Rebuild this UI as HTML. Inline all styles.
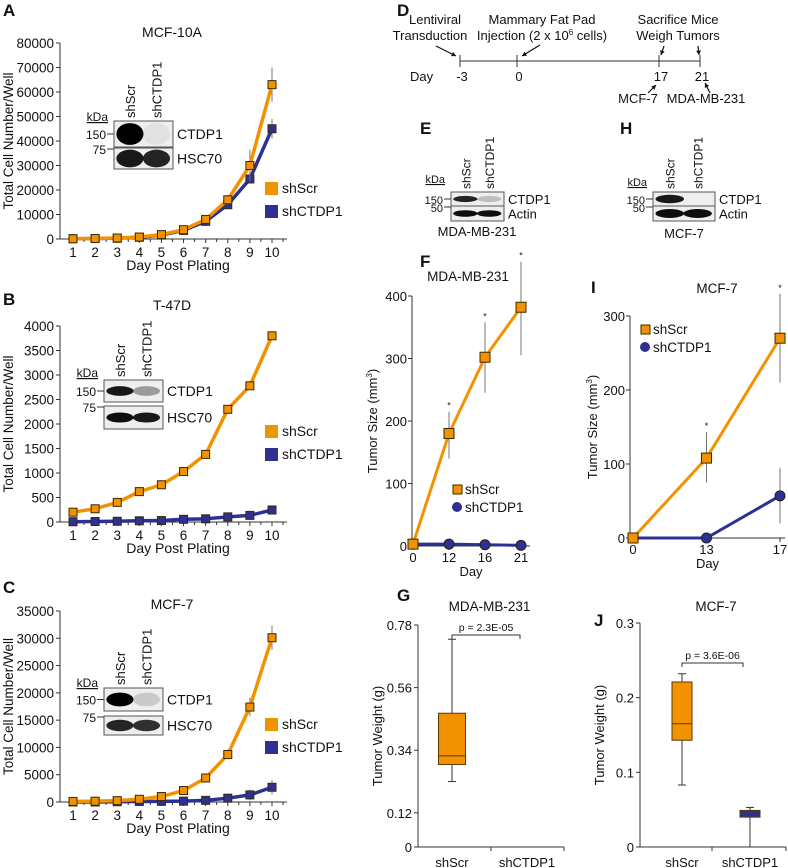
<!DOCTYPE html>
<html><head><meta charset="utf-8"><style>
html,body{margin:0;padding:0;background:#fff}
svg{display:block;font-family:"Liberation Sans",Arial,sans-serif}
</style></head><body>
<svg id="fig" width="788" height="868" viewBox="0 0 788 868" xmlns="http://www.w3.org/2000/svg"></svg>
<script>
// ---- data ----
const days = [1,2,3,4,5,6,7,8,9,10];
const aScr = [100,200,400,800,1800,3800,8000,16000,30000,63000];
const aCtd = [100,200,300,700,1600,3500,7200,14000,24500,45000];
const aScrErr = [50,50,100,150,300,400,800,2000,6500,7000];
const aCtdErr = [50,50,100,150,300,400,600,1000,1500,4000];
const aTicks = [0,10000,20000,30000,40000,50000,60000,70000,80000];
const bScr = [200,270,400,620,760,1030,1380,2300,2780,3800];
const bCtd = [5,10,15,25,30,55,65,105,135,245];
const bTicks = [0,500,1000,1500,2000,2500,3000,3500,4000];
const cScr = [100,150,250,500,1000,2100,4400,8700,17400,30100];
const cCtd = [0,0,50,100,120,150,300,700,1300,2700];
const cScrErr = [50,50,100,200,300,300,700,900,1700,2200];
const cCtdErr = [0,0,50,50,50,100,150,200,1000,1300];
const cTicks = [0,5000,10000,15000,20000,25000,30000,35000];
const fDays = ['0','12','16','21'];
const fScr = [3,180,302,382];
const fScrLo = [3,140,245,305];
const fScrHi = [3,215,358,455];
const fCtd = [3,3,2,1];
const fTicks = [0,100,200,300,400];
const iDays = ['0','13','17'];
const iScr = [0,108,270];
const iScrLo = [0,75,210];
const iScrHi = [0,143,330];
const iCtd = [0,0,57];
const iCtdLo = [0,0,20];
const iCtdHi = [0,0,95];
const iTicks = [0,100,200,300];
const boxGroups = ['shScr','shCTDP1'];
const gStats = [[0.23,0.29,0.32,0.47,0.73]];
const gTicks = [0,0.12,0.34,0.56,0.78];
const jStats = [[0.083,0.143,0.165,0.221,0.232],[0.0,0.040,0.045,0.049,0.053]];
const jTicks = [0,0.1,0.2,0.3];

const OR='#f39200', BL='#2e3192', NS='http://www.w3.org/2000/svg';
const svg=document.getElementById('fig');
function el(tag,attrs,parent,text){const e=document.createElementNS(NS,tag);for(const k in attrs)e.setAttribute(k,attrs[k]);if(text!==undefined)e.textContent=text;(parent||svg).appendChild(e);return e;}
function txt(x,y,s,size,anchor,parent,extra){const t=el('text',Object.assign({x:x,y:y,'font-size':size||13,'text-anchor':anchor||'start',fill:'#111'},extra||{}),parent,s);return t;}
function lin(d0,d1,r0,r1){return v=>r0+(v-d0)/(d1-d0)*(r1-r0);}

function letter(s,x,y){const t=txt(x,y,s,17,'start',null,{'font-weight':'bold'});

}

function growth(cfg){
 const g=el('g',{});
 
 
 const xs=lin(1,10,73,272), ys=lin(0,cfg.ymax,cfg.y0,cfg.ytop);
 el('line',{x1:60,y1:cfg.ytop,x2:60,y2:cfg.y0,stroke:'#333','stroke-width':1},g);
 el('line',{x1:60,y1:cfg.y0,x2:287,y2:cfg.y0,stroke:'#333','stroke-width':1},g);
 cfg.ticks.forEach(t=>{const y=ys(t);el('line',{x1:56,y1:y,x2:60,y2:y,stroke:'#333'},g);
  const l=txt(54,y+5,String(t),13.5,'end',g);
  
  });
 days.forEach(d=>{const x=xs(d);el('line',{x1:x,y1:cfg.y0,x2:x,y2:cfg.y0+4,stroke:'#333'},g);
  const l=txt(x,cfg.y0+18,String(d),13.5,'middle',g);
  
  
  el('line',{x1:x+11,y1:cfg.y0,x2:x+11,y2:cfg.y0+3,stroke:'#333'},g);});
 const xt=txt(178,cfg.y0+31,'Day Post Plating',14,'middle',g);
 
 
 const yt=txt(0,0,'Total Cell Number/Well',13.5,'middle',g,{transform:'translate(13,'+(cfg.y0+cfg.ytop)/2+') rotate(-90)'});
 
 
 const tt=txt(172,cfg.titleY,cfg.title,14,'middle',g);
 
 
 [[cfg.ctd,BL,cfg.ctdErr,'shCTDP1'],[cfg.scr,OR,cfg.scrErr,'shScr']].forEach(([vals,col,err,nm])=>{
  if(err){vals.forEach((v,i)=>{const x=xs(days[i]);const e=el('line',{x1:x,y1:ys(v+err[i]),x2:x,y2:ys(Math.max(0,v-err[i])),stroke:'#777','stroke-width':1},g);
   
   });}
  const p=el('polyline',{points:vals.map((v,i)=>xs(days[i])+','+ys(v)).join(' '),fill:'none',stroke:col,'stroke-width':3.5,'stroke-linejoin':'round'},g);
  
  
  vals.forEach((v,i)=>{const m=el('rect',{x:xs(days[i])-4,y:ys(v)-4,width:8,height:8,fill:col,stroke:'#3a2a00','stroke-width':1},g);
   
   });
 });
 [[OR,'shScr',cfg.legY],[BL,'shCTDP1',cfg.legY+23]].forEach(([c,s,y])=>{
  const r=el('rect',{x:265,y:y,width:13,height:13,fill:c},g);
  
  
  const l=txt(282,y+11,s,14,'start',g);
  
  });
 blot(cfg.blot,g);
}

function blot(b,parent){
 const g=el('g',{},parent);
 
 
 const w=b.x1-b.x0, fs=b.fs||13;
 const k=txt(b.x0-6,b.kY,'kDa',fs-1,'end',g,{'text-decoration':'underline'});
 
 
 const lbl=[['shScr',b.x0+w*0.27],['shCTDP1',b.x0+w*0.72]];
 lbl.forEach(([s,x])=>{const t=txt(0,0,s,fs,'start',g,{transform:'translate('+(x+5)+','+(b.r1-3)+') rotate(-90)'});
  
  });
 const rows=[[b.r1,b.r2,b.top,b.band1],[b.r3,b.r4,b.bot,b.band2]];
 rows.forEach(([y0,y1,name,bands],ri)=>{
  el('rect',{x:b.x0,y:y0,width:w,height:y1-y0,fill:'#eee',stroke:'#555','stroke-width':1},g);
  const cy=(y0+y1)/2;
  bands.forEach((op,li)=>{if(op>0){const cx=b.x0+w*(li?0.72:0.27);
   el('ellipse',{cx:cx,cy:cy,rx:w*0.23,ry:(y1-y0)*(b.bh||0.25),fill:'#000','fill-opacity':op},g);}});
  const t=txt(b.x1+4,cy+5,name,fs+1,'start',g);
  
  
  const m=txt(b.x0-8,y0+(ri?6:cy-y0+5),b.kd[ri],fs-1,'end',g);
  
  
  el('line',{x1:b.x0-7,y1:ri?y0+1:cy,x2:b.x0,y2:ri?y0+1:cy,stroke:'#333'},g);
 });
}

letter('A',3,16);letter('B',3,305);letter('C',3,593);
growth({name:'chart-a-mcf10a',title:'MCF-10A',titleY:37,ymax:80000,y0:239,ytop:43,ticks:aTicks,scr:aScr,ctd:aCtd,scrErr:aScrErr,ctdErr:aCtdErr,legY:182,
 blot:{x0:114,x1:173,kY:121,r1:121,r2:147,r3:148,r4:169,top:'CTDP1',bot:'HSC70',band1:[1,0.05],band2:[0.9,0.85],kd:['150','75'],bh:0.42}});
growth({name:'chart-b-t47d',title:'T-47D',titleY:310,ymax:4000,y0:522,ytop:326,ticks:bTicks,scr:bScr,ctd:bCtd,legY:425,
 blot:{x0:104,x1:163,kY:377,r1:380,r2:402,r3:406,r4:429,top:'CTDP1',bot:'HSC70',band1:[0.9,0.35],band2:[0.95,0.9],kd:['150','75'],bh:0.22}});
growth({name:'chart-c-mcf7',title:'MCF-7',titleY:609,ymax:35000,y0:802,ytop:611,ticks:cTicks,scr:cScr,ctd:cCtd,scrErr:cScrErr,ctdErr:cCtdErr,legY:718,
 blot:{x0:104,x1:163,kY:687,r1:688,r2:711,r3:716,r4:735,top:'CTDP1',bot:'HSC70',band1:[1,0.15],band2:[0.85,0.8],kd:['150','75'],bh:0.3}});

// ---- D timeline ----
letter('D',397,16);
(function(){
 const g=el('g',{});
 
 
 el('line',{x1:460,y1:61,x2:700,y2:61,stroke:'#333','stroke-width':1},g);
 [[460,'-3'],[517,'0'],[659,'17'],[700,'21']].forEach(([x,s])=>{el('line',{x1:x,y1:55,x2:x,y2:67,stroke:'#333'},g);txt(x+2,81,s,13,'middle',g);});
 txt(410,81,'Day',13,'start',g);
 [['Lentiviral',435,24],['Transduction',430,40],['Mammary Fat Pad',542,24],['Sacrifice Mice',678,24],['Weigh Tumors',678,40],['MCF-7',638,103],['MDA-MB-231',706,103]].forEach(([s,x,y])=>txt(x,y,s,13,'middle',g));
 const inj=txt(542,40,'Injection (2 x 10',13,'middle',g);
 el('tspan',{'font-size':8,dy:-5},inj,'6');
 el('tspan',{dy:5},inj,' cells)');
 [[436,46,456,56],[540,45,522,56],[664,46,661,55],[698,46,699,55],[648,93,656,85],[710,93,705,83]].forEach(([x1,y1,x2,y2])=>{
  el('line',{x1:x1,y1:y1,x2:x2,y2:y2,stroke:'#111','stroke-width':1.2},g);
  const a=Math.atan2(y2-y1,x2-x1),L=5;
  el('polygon',{points:[x2,y2,x2-L*Math.cos(a-0.5),y2-L*Math.sin(a-0.5),x2-L*Math.cos(a+0.5),y2-L*Math.sin(a+0.5)].join(','),fill:'#111'},g);
 });
})();

// ---- E, H blots ----
letter('E',420,134);letter('H',620,134);
blot({x0:451,x1:504,kY:183,r1:192,r2:206,r3:206,r4:221,top:'CTDP1',bot:'Actin',band1:[0.85,0.2],band2:[0.95,0.95],kd:['150','50'],fs:12,bh:0.22});
blot({x0:653,x1:715,kY:186,r1:192,r2:206,r3:206,r4:221,top:'CTDP1',bot:'Actin',band1:[0.9,0],band2:[0.95,0.95],kd:['150','50'],fs:12,bh:0.3});
txt(477,236,'MDA-MB-231',13,'middle');txt(684,238,'MCF-7',13,'middle');

// ---- tumor growth charts ----
function tumor(cfg){
 const g=el('g',{});
 
 
 const ys=lin(0,cfg.ymax,cfg.y0,cfg.ytop);
 const xs=i=>cfg.xpos0+i*cfg.step;
 el('line',{x1:cfg.ax,y1:cfg.axTop,x2:cfg.ax,y2:cfg.y0,stroke:'#333'},g);
 el('line',{x1:cfg.ax,y1:cfg.y0,x2:cfg.axEnd,y2:cfg.y0,stroke:'#333'},g);
 cfg.ticks.forEach(t=>{const y=ys(t);el('line',{x1:cfg.ax-4,y1:y,x2:cfg.ax,y2:y,stroke:'#333'},g);
  const l=txt(cfg.ax-5,y+5,String(t),13,'end',g);
  
  });
 cfg.cats.forEach((c,i)=>{el('line',{x1:xs(i),y1:cfg.y0,x2:xs(i),y2:cfg.y0+4,stroke:'#333'},g);
  const l=txt(xs(i),cfg.y0+16,c,13,'middle',g);
  
  });
 txt((cfg.ax+cfg.axEnd)/2,cfg.y0+30,'Day',13,'middle',g);
 const yt=txt(0,0,'Tumor Size (mm',13,'middle',g,{transform:'translate('+(cfg.ax-cfg.ytOff)+','+(cfg.y0+ys(cfg.ticks[cfg.ticks.length-1]))/2+') rotate(-90)'});
 el('tspan',{'font-size':8,dy:-5},yt,'3');el('tspan',{dy:5},yt,')');
 
 
 txt(cfg.titleX,cfg.titleY,cfg.title,13.5,'middle',g);
 if(cfg.scrLo)cfg.scr.forEach((v,i)=>{if(cfg.scrHi[i]>v){el('line',{x1:xs(i),y1:ys(cfg.scrHi[i]),x2:xs(i),y2:ys(cfg.scrLo[i]),stroke:'#777'},g);
  txt(xs(i),ys(cfg.scrHi[i])-3,'*',9,'middle',g);}});
 if(cfg.ctdLo)cfg.ctd.forEach((v,i)=>{if(cfg.ctdHi[i]>v)el('line',{x1:xs(i),y1:ys(cfg.ctdHi[i]),x2:xs(i),y2:ys(cfg.ctdLo[i]),stroke:'#777'},g);});
 const pb=el('polyline',{points:cfg.ctd.map((v,i)=>xs(i)+','+ys(v)).join(' '),fill:'none',stroke:BL,'stroke-width':3},g);
 
 
 const po=el('polyline',{points:cfg.scr.map((v,i)=>xs(i)+','+ys(v)).join(' '),fill:'none',stroke:OR,'stroke-width':3},g);
 
 
 cfg.ctd.forEach((v,i)=>{const c=el('circle',{cx:xs(i),cy:ys(v),r:5,fill:BL,stroke:'#222'},g);
  
  });
 cfg.scr.forEach((v,i)=>{const r=el('rect',{x:xs(i)-5,y:ys(v)-5,width:10,height:10,fill:OR,stroke:'#3a2a00'},g);
  
  });
 const lx=cfg.legX,ly=cfg.legY;
 el('rect',{x:lx-4,y:ly-4,width:9,height:9,fill:OR,stroke:'#3a2a00'},g);
 el('circle',{cx:lx,cy:ly+18,r:5,fill:BL},g);
 const l1=txt(lx+8,ly+5,'shScr',13.5,'start',g);
 
 
 const l2=txt(lx+8,ly+23,'shCTDP1',13.5,'start',g);
 
 
}
letter('F',420,267);letter('I',591,293);
tumor({name:'chart-f-mda-tumor-size',title:'MDA-MB-231',titleX:468,titleY:281,ymax:400,y0:546,ytop:296,axTop:296,ticks:fTicks,cats:fDays,scr:fScr,scrLo:fScrLo,scrHi:fScrHi,ctd:fCtd,ax:412,axEnd:530,xpos0:413,step:36,legX:457,legY:489,ytOff:35});
tumor({name:'chart-i-mcf7-tumor-size',title:'MCF-7',titleX:717,titleY:293,ymax:300,y0:538,ytop:316,axTop:316,ticks:iTicks,cats:iDays,scr:iScr,scrLo:iScrLo,scrHi:iScrHi,ctd:iCtd,ctdLo:iCtdLo,ctdHi:iCtdHi,ax:630,axEnd:785,xpos0:633,step:73.5,legX:645,legY:329,ytOff:33});

// ---- box plots ----
function boxplot(cfg){
 const g=el('g',{});
 
 
 const ys=lin(0,cfg.ymax,cfg.y0,cfg.ytop);
 el('line',{x1:cfg.ax,y1:cfg.ytop,x2:cfg.ax,y2:cfg.y0,stroke:'#333'},g);
 el('line',{x1:cfg.ax,y1:cfg.y0,x2:cfg.axEnd,y2:cfg.y0,stroke:'#333'},g);
 el('line',{x1:cfg.mid,y1:cfg.y0,x2:cfg.mid,y2:cfg.y0+4,stroke:'#333'},g);
 el('line',{x1:cfg.axEnd,y1:cfg.y0,x2:cfg.axEnd,y2:cfg.y0+4,stroke:'#333'},g);
 cfg.ticks.forEach(t=>{const y=ys(t);el('line',{x1:cfg.ax-4,y1:y,x2:cfg.ax,y2:y,stroke:'#333'},g);
  const l=txt(cfg.ax-6,y+5,String(t),13,'end',g);
  
  });
 boxGroups.forEach((c,i)=>{const l=txt(cfg.cx[i],cfg.y0+20,c,13,'middle',g);
  
  });
 const yt=txt(0,0,'Tumor Weight (g)',13,'middle',g,{transform:'translate('+(cfg.ax-cfg.ytOff)+','+(cfg.y0+cfg.ytop)/2+') rotate(-90)'});
 
 
 txt((cfg.cx[0]+cfg.cx[1])/2,cfg.titleY,cfg.title,13.5,'middle',g);
 cfg.stats.forEach((s,i)=>{const cx=cfg.cx[i],w=cfg.bw,col=i?BL:OR;
  el('line',{x1:cx,y1:ys(s[4]),x2:cx,y2:ys(s[0]),stroke:'#333'},g);
  el('line',{x1:cx-4,y1:ys(s[4]),x2:cx+4,y2:ys(s[4]),stroke:'#333'},g);
  el('line',{x1:cx-4,y1:ys(s[0]),x2:cx+4,y2:ys(s[0]),stroke:'#333'},g);
  const b=el('rect',{x:cx-w/2,y:ys(s[3]),width:w,height:ys(s[1])-ys(s[3]),fill:col,stroke:'#5a3a00'},g);
  
  
  el('line',{x1:cx-w/2,y1:ys(s[2]),x2:cx+w/2,y2:ys(s[2]),stroke:'#5a3a00'},g);
 });
 const by=cfg.pY;
 el('polyline',{points:[cfg.cx[0],by+4,cfg.cx[0],by,cfg.cx[1]-7,by,cfg.cx[1]-7,by+4].join(' '),fill:'none',stroke:'#333'},g);
 const p=txt((cfg.cx[0]+cfg.cx[1]-7)/2,by-4,cfg.p,10.5,'middle',g);
 
 
}
letter('G',397,601);letter('J',594,626);
boxplot({name:'chart-g-mda-tumor-weight',title:'MDA-MB-231',titleY:611,ymax:0.78,y0:847,ytop:625,ticks:gTicks,stats:gStats,cx:[452,527],bw:27,ax:418,axEnd:564,mid:491,pY:635,p:'p = 2.3E-05',ytOff:36});
boxplot({name:'chart-j-mcf7-tumor-weight',title:'MCF-7',titleY:611,ymax:0.3,y0:847,ytop:623,ticks:jTicks,stats:jStats,cx:[682,750],bw:20,ax:640,axEnd:786,mid:712,pY:663,p:'p = 3.6E-06',ytOff:36});
</script>
</body></html>
